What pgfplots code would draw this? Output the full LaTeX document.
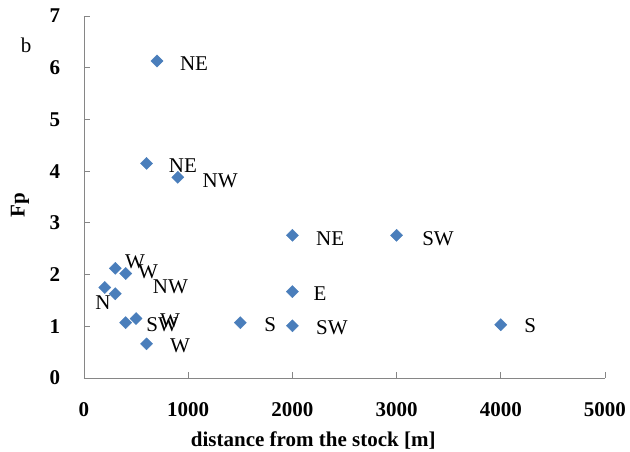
\documentclass[border=0pt]{standalone}
\usepackage{pgfplots}
\pgfplotsset{compat=1.18}
\usepackage{fontspec}
\setmainfont{Liberation Serif}
\definecolor{pt}{RGB}{74,126,187}
\definecolor{ax}{RGB}{134,134,134}
\begin{document}
\begin{tikzpicture}
\path[use as bounding box] (-84pt,-74pt) rectangle (546pt,378pt);
\begin{axis}[
  at={(0,0)}, anchor=south west,
  scale only axis, width=521pt, height=362pt,
  xmin=0, xmax=5000, ymin=0, ymax=7,
  xtick={0,1000,...,5000}, ytick={0,1,...,7},
  axis x line*=bottom, axis y line*=left,
  axis line style={draw=ax, line width=0.9pt, -},
  tick style={draw=ax, line width=0.9pt},
  major tick length=6pt, tick align=inside,
  /pgf/number format/assume math mode=true,
  /pgf/number format/set thousands separator={},
  tick label style={font=\fontsize{21}{24}\selectfont\bfseries},
  xticklabel style={anchor=center, yshift=-32pt},
  yticklabel style={anchor=center, xshift=-29pt},
  xlabel={distance from the stock [m]},
  ylabel={Fp},
  label style={font=\fontsize{21}{24}\selectfont\bfseries},
  xlabel style={at={(axis description cs:0.44,-0.174)}, anchor=center},
  ylabel style={at={(axis description cs:-0.123,0.478)}, anchor=center, rotate=0},
  clip=false,
]
\addplot[only marks, mark=square*, mark size=4.3pt, mark options={rotate=45, fill=pt, draw=pt}] coordinates {
  (700,6.13) (600,4.15) (900,3.88) (2000,2.76) (3000,2.76)
  (300,2.12) (400,2.02) (200,1.75) (300,1.63) (2000,1.67)
  (400,1.07) (500,1.15) (600,0.66) (1500,1.07) (2000,1.01) (4000,1.03)
};
\begin{scope}[every node/.style={font=\fontsize{21}{24}\selectfont, inner sep=0pt}]
\node at (axis cs:1056,6.07) {NE};
\node at (axis cs:950,4.10) {NE};
\node at (axis cs:1306,3.81) {NW};
\node at (axis cs:2362,2.69) {NE};
\node at (axis cs:3398,2.69) {SW};
\node at (axis cs:490,2.24) {W};
\node at (axis cs:615,2.05) {W};
\node at (axis cs:830,1.76) {NW};
\node at (axis cs:182,1.45) {N};
\node at (axis cs:2266,1.64) {E};
\node at (axis cs:750,1.04) {SW};
\node at (axis cs:826,1.10) {W};
\node at (axis cs:922,0.62) {W};
\node at (axis cs:1786,1.03) {S};
\node at (axis cs:2380,0.97) {SW};
\node at (axis cs:4282,1.01) {S};
\node at (axis description cs:-0.111,0.92) {b};
\end{scope}
\end{axis}
\end{tikzpicture}
\end{document}
